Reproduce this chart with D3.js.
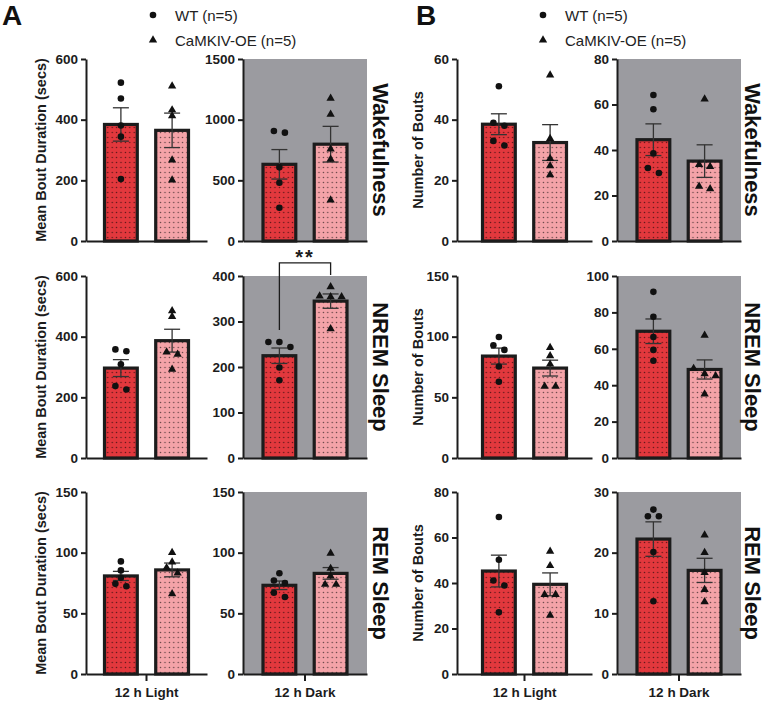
<!DOCTYPE html>
<html>
<head>
<meta charset="utf-8">
<script src="https://cdn.jsdelivr.net/npm/d3@7"></script>
<style>
  body { margin: 0; background: #fff; }
  svg { display: block; font-family: Arial, "Liberation Sans", sans-serif; }
</style>
</head>
<body>
<svg id="chart" width="767" height="702"></svg>
<script>
// groups, phases and states
let groups = ['WT (n=5)', 'CaMKIV-OE (n=5)']
let phases = ['12 h Light', '12 h Dark']
let states = ['Wakefulness', 'NREM Sleep', 'REM Sleep']

// A - mean bout duration (secs), individual animals
let durWakeLightWT = [522, 470, 381, 344, 204]
let durWakeLightOE = [511, 432, 413, 267, 201]
let durWakeDarkWT = [906, 893, 607, 480, 274]
let durWakeDarkOE = [1176, 1044, 758, 673, 338]
let durNremLightWT = [358, 352, 309, 237, 226]
let durNremLightOE = [485, 466, 349, 342, 292]
let durNremDarkWT = [255, 255, 244, 199, 171]
let durNremDarkOE = [376, 356, 354, 354, 284]
let durRemLightWT = [92.8, 85.4, 79.3, 74.3, 72.3]
let durRemLightOE = [100, 92.2, 87.6, 83.1, 66]
let durRemDarkWT = [83, 77, 75, 67, 63.5]
let durRemDarkOE = [99.4, 87, 80.6, 73.8, 73.8]

// B - number of bouts
let boutWakeLightWT = [51, 39, 38, 33, 31.5]
let boutWakeLightOE = [54.7, 33.8, 27.2, 24.8, 21.8]
let boutWakeDarkWT = [64.2, 57.9, 38.5, 32.1, 29.9]
let boutWakeDarkOE = [62.4, 33.6, 32.7, 24, 22.9]
let boutNremLightWT = [99.7, 92.9, 89.1, 75.4, 62.9]
let boutNremLightOE = [91, 84.2, 77.3, 59, 59]
let boutNremDarkWT = [91.3, 77.6, 66.5, 59.4, 53.4]
let boutNremDarkOE = [67.4, 49.2, 46.3, 45.2, 35.1]
let boutRemLightWT = [69, 50.2, 41.1, 38.9, 27.1]
let boutRemLightOE = [53.9, 47.6, 34.9, 34.9, 25.8]
let boutRemDarkWT = [27.1, 26, 26, 20.1, 12]
let boutRemDarkOE = [22.9, 20, 16.7, 13.9, 11.9]

// y tick values per plot (light, dark)
let durWakeTicks = [[0, 200, 400, 600], [0, 500, 1000, 1500]]
let durNremTicks = [[0, 200, 400, 600], [0, 100, 200, 300, 400]]
let durRemTicks = [[0, 50, 100, 150], [0, 50, 100, 150]]
let boutWakeTicks = [[0, 20, 40, 60], [0, 20, 40, 60, 80]]
let boutNremTicks = [[0, 50, 100, 150], [0, 20, 40, 60, 80, 100]]
let boutRemTicks = [[0, 20, 40, 60, 80], [0, 10, 20, 30]]

let sigLabel = '**'

// layout
let rowTop = [59, 276, 492]
let plotH = 182
let colX = [86, 243, 457, 617]
let colW = [121, 124, 135, 124]
let ink = '#1c1c1c'
let fills = ['#e2383d', '#f4a3a8']
let darkBg = '#9b9ba0'

let svg = d3.select('#chart')

let defs = svg.append('defs')
defs.append('pattern')
    .attr('id', 'dots')
    .attr('patternUnits', 'userSpaceOnUse')
    .attr('width', 4.4)
    .attr('height', 5)
    .append('circle')
    .attr('cx', 2.2)
    .attr('cy', 2.5)
    .attr('r', 0.7)
    .attr('fill', '#000')
    .attr('opacity', 0.6)

let mean = (v) => d3.mean(v)
let sem = (v) => d3.deviation(v) / Math.sqrt(v.length)

// spread points that would overlap, the way Prism scatters them
let swarm = (vals, y) => {
    let pts = vals.map((v) => ({ v: v, py: y(v) })).sort((a, b) => a.py - b.py)
    let clusters = []
    let cur = []
    pts.forEach((p) => {
        if (cur.length && p.py - cur[cur.length - 1].py >= 5.5) {
            clusters.push(cur)
            cur = []
        }
        cur.push(p)
    })
    if (cur.length) clusters.push(cur)
    clusters.forEach((c) => {
        c.forEach((p, i) => { p.dx = (i - (c.length - 1) / 2) * 11 })
    })
    return pts
}

let drawPlot = (col, row, phaseIdx, series, ticks, sig) => {
    let x0 = colX[col]
    let x1 = x0 + colW[col]
    let mid = (x0 + x1) / 2
    let top = rowTop[row]
    let bottom = top + plotH
    let g = svg.append('g')

    let yScale = d3.scaleLinear()
        .domain([0, d3.max(ticks)])
        .range([bottom, top])

    let xScale = d3.scaleBand()
        .domain(groups)
        .range([mid - 42, mid + 42])
        .paddingInner(0.36)

    if (phaseIdx === 1) {
        g.append('rect')
            .attr('x', x0).attr('y', top)
            .attr('width', x1 - x0).attr('height', plotH)
            .attr('fill', darkBg)
    }

    series.forEach((vals, i) => {
        let m = mean(vals)
        let s = sem(vals)
        let bx = xScale(groups[i])
        let bw = xScale.bandwidth()
        let cx = bx + bw / 2

        g.append('rect')
            .attr('x', bx).attr('y', yScale(m))
            .attr('width', bw).attr('height', yScale(0) - yScale(m))
            .attr('fill', fills[i])
        g.append('rect')
            .attr('x', bx).attr('y', yScale(m))
            .attr('width', bw).attr('height', yScale(0) - yScale(m))
            .attr('fill', 'url(#dots)')
        g.append('rect')
            .attr('x', bx).attr('y', yScale(m))
            .attr('width', bw).attr('height', yScale(0) - yScale(m))
            .attr('fill', 'none')
            .attr('stroke', ink)
            .attr('stroke-width', 3.2)

        // SEM whiskers
        let eb = g.append('g').attr('stroke', '#333').attr('stroke-width', 1.3)
        eb.append('line')
            .attr('x1', cx).attr('x2', cx)
            .attr('y1', yScale(m - s)).attr('y2', yScale(m + s))
        ;[m - s, m + s].forEach((v) => {
            eb.append('line')
                .attr('x1', cx - 8).attr('x2', cx + 8)
                .attr('y1', yScale(v)).attr('y2', yScale(v))
        })

        let pts = swarm(vals, yScale)
        pts.forEach((p) => {
            if (i === 0) {
                g.append('circle')
                    .attr('cx', cx + p.dx).attr('cy', p.py)
                    .attr('r', 3.3)
                    .attr('fill', '#111')
            } else {
                g.append('path')
                    .attr('d', d3.symbol(d3.symbolTriangle, 30)())
                    .attr('transform', 'translate(' + (cx + p.dx) + ',' + p.py + ')')
                    .attr('fill', '#111')
            }
        })
    })

    // significance bracket
    if (sig) {
        let legs = series.map((vals, i) => ({
            x: xScale(groups[i]) + xScale.bandwidth() / 2,
            y: yScale(d3.max(vals)) - 12
        }))
        let yTop = d3.min(legs, (d) => d.y) - 12
        g.append('path')
            .attr('d', 'M' + legs[0].x + ',' + legs[0].y + 'V' + yTop + 'H' + legs[1].x + 'V' + legs[1].y)
            .attr('fill', 'none')
            .attr('stroke', ink)
            .attr('stroke-width', 1.3)
        g.append('text')
            .attr('x', (legs[0].x + legs[1].x) / 2)
            .attr('y', yTop + 1)
            .attr('text-anchor', 'middle')
            .attr('font-size', 20)
            .attr('letter-spacing', 2)
            .attr('font-weight', 'bold')
            .attr('fill', ink)
            .text(sig)
    }

    // axes
    let yAxis = d3.axisLeft(yScale)
        .tickValues(ticks)
        .tickSize(5)
        .tickSizeOuter(0)
        .tickPadding(3)
        .tickFormat(d3.format('d'))

    let ya = g.append('g')
        .attr('transform', 'translate(' + x0 + ',0)')
        .call(yAxis)

    let phaseScale = d3.scaleBand().domain([phases[phaseIdx]]).range([x0, x1])
    let last = row === rowTop.length - 1
    let xAxis = d3.axisBottom(phaseScale)
        .tickSize(last ? 7 : 0)
        .tickSizeOuter(0)
        .tickPadding(6)
        .tickFormat(last ? null : '')

    let xa = g.append('g')
        .attr('transform', 'translate(0,' + bottom + ')')
        .call(xAxis)

    ;[ya, xa].forEach((a) => {
        a.select('.domain').attr('stroke', ink).attr('stroke-width', 2)
        a.selectAll('.tick line').attr('stroke', ink).attr('stroke-width', 2)
        a.selectAll('.tick text')
            .attr('fill', ink)
            .attr('font-size', 13.5)
            .attr('font-weight', 'bold')
            .attr('font-family', 'Arial, "Liberation Sans", sans-serif')
    })
}

let durData = [
    [[durWakeLightWT, durWakeLightOE], [durWakeDarkWT, durWakeDarkOE], durWakeTicks],
    [[durNremLightWT, durNremLightOE], [durNremDarkWT, durNremDarkOE], durNremTicks],
    [[durRemLightWT, durRemLightOE], [durRemDarkWT, durRemDarkOE], durRemTicks]
]
let boutData = [
    [[boutWakeLightWT, boutWakeLightOE], [boutWakeDarkWT, boutWakeDarkOE], boutWakeTicks],
    [[boutNremLightWT, boutNremLightOE], [boutNremDarkWT, boutNremDarkOE], boutNremTicks],
    [[boutRemLightWT, boutRemLightOE], [boutRemDarkWT, boutRemDarkOE], boutRemTicks]
]

let panels = [
    { letter: 'A', data: durData, col: 0, title: 'Mean Bout Duration (secs)', titleX: 41, labelX: 380, letterX: 2, legendX: 153 },
    { letter: 'B', data: boutData, col: 2, title: 'Number of Bouts', titleX: 418, labelX: 752, letterX: 416, legendX: 543 }
]

panels.forEach((p) => {
    p.data.forEach((d, row) => {
        drawPlot(p.col, row, 0, d[0], d[2][0], null)
        drawPlot(p.col + 1, row, 1, d[1], d[2][1], (p.letter === 'A' && row === 1) ? sigLabel : null)

        let cy = rowTop[row] + plotH / 2
        svg.append('text')
            .attr('transform', 'translate(' + p.titleX + ',' + cy + ') rotate(-90)')
            .attr('text-anchor', 'middle')
            .attr('dominant-baseline', 'central')
            .attr('font-size', 14.5)
            .attr('font-weight', 'bold')
            .attr('fill', ink)
            .text(p.title)

        svg.append('text')
            .attr('transform', 'translate(' + p.labelX + ',' + cy + ') rotate(90)')
            .attr('text-anchor', 'middle')
            .attr('dominant-baseline', 'central')
            .attr('font-size', 22)
            .attr('font-weight', 'bold')
            .attr('fill', '#111')
            .text(states[row])
    })

    svg.append('text')
        .attr('x', p.letterX).attr('y', 25)
        .attr('font-size', 28)
        .attr('font-weight', 'bold')
        .attr('fill', '#111')
        .text(p.letter)

    // legend
    let lg = svg.append('g')
    lg.append('circle')
        .attr('cx', p.legendX).attr('cy', 15).attr('r', 3.3).attr('fill', '#111')
    lg.append('path')
        .attr('d', d3.symbol(d3.symbolTriangle, 30)())
        .attr('transform', 'translate(' + p.legendX + ',40)')
        .attr('fill', '#111')
    groups.forEach((name, i) => {
        lg.append('text')
            .attr('x', p.legendX + 22).attr('y', 15 + i * 25)
            .attr('dominant-baseline', 'central')
            .attr('font-size', 15)
            .attr('fill', '#222')
            .text(name)
    })
})
</script>
</body>
</html>
